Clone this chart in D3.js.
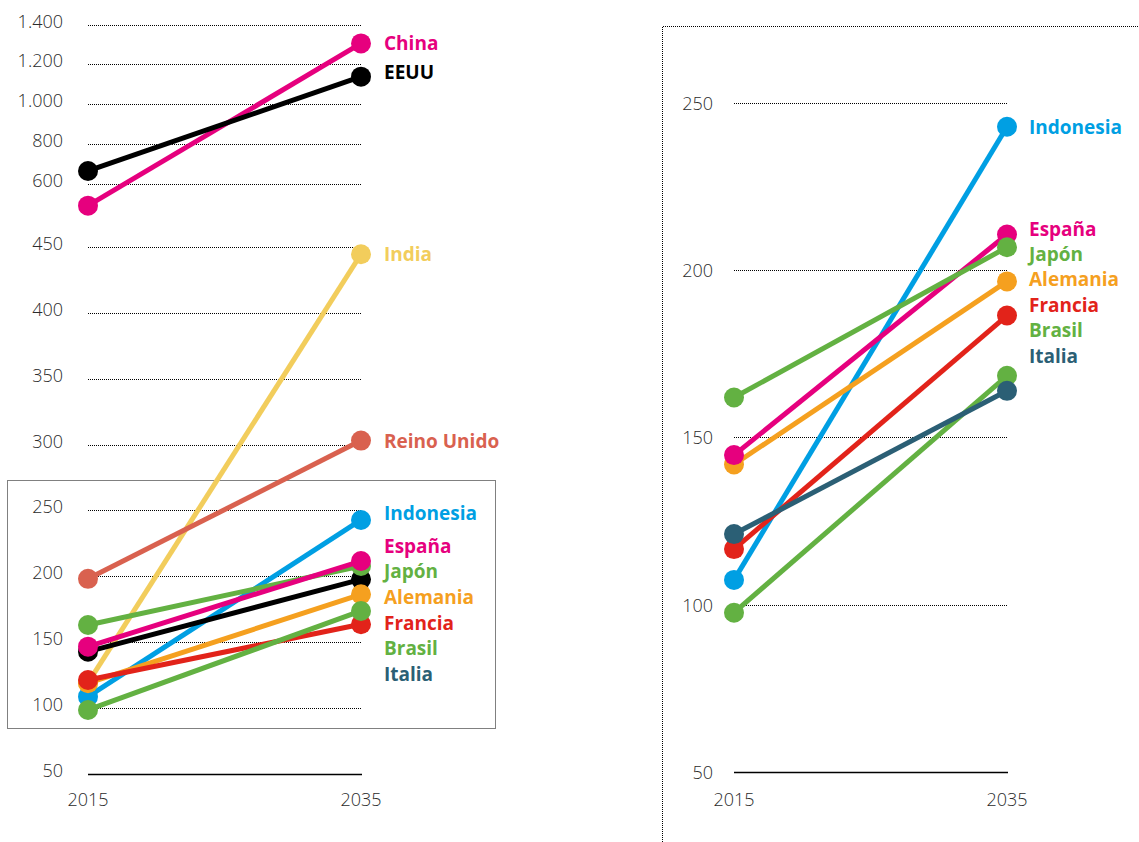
<!DOCTYPE html>
<html>
<head>
<meta charset="utf-8">
<script src="https://cdn.jsdelivr.net/npm/d3@7"></script>
<style>
  html, body { margin: 0; padding: 0; background: #fff; }
  svg { display: block; }
  .tick-label { font-family: "Open Sans", sans-serif; font-weight: 300; font-size: 18px; fill: #2b2b2b; }
  .name-label { font-family: "Open Sans", sans-serif; font-weight: 700; font-size: 19px; }
</style>
</head>
<body>
<svg id="chart" width="1139" height="842"></svg>
<script>
// Years on the horizontal axis
const years = ["2015", "2035"];

// Left panel: all countries
const leftCountries = ["India", "Reino Unido", "China", "EEUU", "Indonesia", "Italia", "Alemania", "Francia", "Brasil", "Japón", "España"];
const leftColors    = ["#f2cd5c", "#d9614f", "#e6007e", "#000000", "#009fe3", "#000000", "#f5a01f", "#e2231a", "#63b142", "#63b142", "#e6007e"];
const left2015      = [119, 198, 548, 664, 108.5, 142.7, 118.7, 121.2, 98.4, 162.9, 146.5];
const left2035      = [444.5, 303, 1305, 1138, 242.7, 197.6, 186.2, 163.5, 173.6, 207.7, 211.5];

// Left panel labels (top group sits beside its point, the rest are stacked)
const leftLabelTop     = ["China", "EEUU", "India", "Reino Unido", "Indonesia"];
const leftLabelTopCol  = ["#e6007e", "#000000", "#f2cd5c", "#d9614f", "#009fe3"];
const leftLabelTopVal  = [1305, 1160, 444.5, 303, 248];
const stackNames  = ["España", "Japón", "Alemania", "Francia", "Brasil", "Italia"];
const stackColors = ["#e6007e", "#63b142", "#f5a01f", "#e2231a", "#63b142", "#2b5f75"];

// Left panel ticks
const leftTicks = [50, 100, 150, 200, 250, 300, 350, 400, 450, 600, 800, 1000, 1200, 1400];

// Right panel: detail of the lower group
const rightCountries = ["Indonesia", "Alemania", "España", "Japón", "Francia", "Brasil", "Italia"];
const rightColors    = ["#009fe3", "#f5a01f", "#e6007e", "#63b142", "#e2231a", "#63b142", "#2b5f75"];
const right2015      = [107.4, 141.9, 144.7, 161.9, 116.6, 97.6, 121.1];
const right2035      = [242.8, 196.6, 210.6, 206.8, 186.4, 168.4, 163.9];
const rightTicks     = [50, 100, 150, 200, 250];

const svg = d3.select("#chart");
const es = d3.formatLocale({ decimal: ",", thousands: ".", grouping: [3], currency: ["", " €"] });
const fmt = es.format(",");

// Left scales: linear up to 450, compressed above
const xL = d3.scalePoint().domain(years).range([88, 361]);
const yL = d3.scaleLinear().domain([50, 450, 600, 1400]).range([773.7, 247, 183.7, 24.5]);

// Right scales
const xR = d3.scalePoint().domain(years).range([734, 1007]);
const yR = d3.scaleLinear().domain([50, 250]).range([772, 102.7]);

const dots = "1,1";

function drawGrid(g, x, y, ticks, labelX, labelDy) {
  const x0 = x(years[0]), x1 = x(years[1]) + 1;
  g.selectAll("line.grid").data(ticks).join("line")
    .attr("x1", x0).attr("x2", x1)
    .attr("y1", d => Math.round(y(d)) + 0.5).attr("y2", d => Math.round(y(d)) + 0.5)
    .attr("stroke", "#000")
    .attr("stroke-width", d => d === ticks[0] ? 1.5 : 1)
    .attr("stroke-dasharray", d => d === ticks[0] ? null : dots);
  g.selectAll("text.tick-label").data(ticks).join("text")
    .attr("class", "tick-label")
    .attr("x", labelX)
    .attr("y", d => y(d) + labelDy)
    .attr("text-anchor", "end")
    .attr("dominant-baseline", "central")
    .text(d => fmt(d));
  g.selectAll("text.year").data(years).join("text")
    .attr("class", "tick-label year")
    .attr("x", d => x(d))
    .attr("y", 799)
    .attr("text-anchor", "middle")
    .attr("dominant-baseline", "central")
    .text(d => d);
}

function drawSeries(g, x, y, names, colors, v0, v1) {
  const rows = names.map((n, i) => ({ name: n, color: colors[i], a: v0[i], b: v1[i] }));
  const s = g.selectAll("g.series").data(rows).join("g").attr("class", "series");
  s.append("line")
    .attr("x1", x(years[0])).attr("y1", d => y(d.a))
    .attr("x2", x(years[1])).attr("y2", d => y(d.b))
    .attr("stroke", d => d.color).attr("stroke-width", 5);
  s.append("circle").attr("cx", x(years[0])).attr("cy", d => y(d.a)).attr("r", 10).attr("fill", d => d.color);
  s.append("circle").attr("cx", x(years[1])).attr("cy", d => y(d.b)).attr("r", 10).attr("fill", d => d.color);
}

function drawStack(g, x0, yTop, names, colors, step) {
  g.selectAll("text.stack").data(names).join("text")
    .attr("class", "name-label stack")
    .attr("x", x0)
    .attr("y", (d, i) => yTop + i * step)
    .attr("dominant-baseline", "central")
    .attr("fill", (d, i) => colors[i])
    .text(d => d);
}

// ---- Left panel ----
const left = svg.append("g");
// highlight box around the lower group
left.append("rect")
  .attr("x", 7.5).attr("y", Math.round(yL(273)) + 0.5)
  .attr("width", 488).attr("height", Math.round(yL(85)) - Math.round(yL(273)))
  .attr("fill", "none").attr("stroke", "#000").attr("stroke-width", 1).attr("stroke-dasharray", dots);
drawGrid(left, xL, yL, leftTicks, 63, -4);
drawSeries(left, xL, yL, leftCountries, leftColors, left2015, left2035);
left.selectAll("text.top").data(leftLabelTop).join("text")
  .attr("class", "name-label top")
  .attr("x", 384)
  .attr("y", (d, i) => yL(leftLabelTopVal[i]))
  .attr("dominant-baseline", "central")
  .attr("fill", (d, i) => leftLabelTopCol[i])
  .text(d => d);
drawStack(left, 384, 545.7, stackNames, stackColors, 25.6);

// ---- Right panel ----
const right = svg.append("g");
right.append("path")
  .attr("d", "M662.5,842V26.5H1139")
  .attr("fill", "none").attr("stroke", "#000").attr("stroke-width", 1).attr("stroke-dasharray", dots);
drawGrid(right, xR, yR, rightTicks, 713, 0);
drawSeries(right, xR, yR, rightCountries, rightColors, right2015, right2035);
right.append("text")
  .attr("class", "name-label")
  .attr("x", 1029).attr("y", yR(242.8))
  .attr("dominant-baseline", "central")
  .attr("fill", "#009fe3")
  .text("Indonesia");
drawStack(right, 1029, 228.5, stackNames, stackColors, 25.4);
</script>
</body>
</html>
